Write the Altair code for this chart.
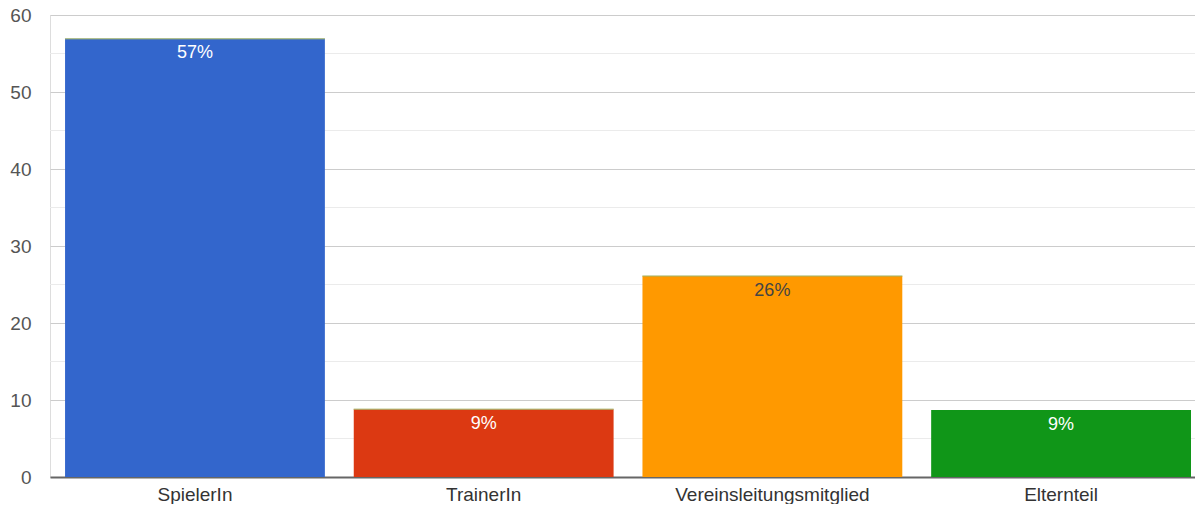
import altair as alt
import pandas as pd

categories = ["SpielerIn", "TrainerIn", "Vereinsleitungsmitglied", "Elternteil"]
values = [56.9, 8.8, 26.1, 8.7]
labels = ["57%", "9%", "26%", "9%"]
bar_colors = ["#3366cc", "#dc3912", "#ff9900", "#109618"]
label_colors = ["#ffffff", "#ffffff", "#444444", "#ffffff"]
top_line_categories = ["SpielerIn", "TrainerIn", "Vereinsleitungsmitglied"]
major_ticks = [0, 10, 20, 30, 40, 50, 60]
minor_ticks = [5, 15, 25, 35, 45, 55]

df = pd.DataFrame({"cat": categories, "value": values, "label": labels,
                   "lcolor": label_colors})
minor_df = pd.DataFrame({"v": minor_ticks})

FONT = "Liberation Sans"

x_enc = alt.X("cat:N", sort=categories, title=None,
              scale=alt.Scale(paddingInner=0.1, paddingOuter=0.033, align=0.79),
              axis=alt.Axis(labelAngle=0, labelFontSize=19, labelColor="#333333",
                            labelFont=FONT, ticks=False, domain=True,
                            domainColor="#666666", domainWidth=2, labelPadding=8,
                            labelLimit=0, grid=False))
y_scale = alt.Scale(domain=[0, 60], nice=False)

minor = alt.Chart(minor_df).mark_rule(color="#ebebeb", strokeWidth=1).encode(
    y=alt.Y("v:Q", scale=y_scale, title=None),
)

bars = alt.Chart(df).mark_bar().encode(
    x=x_enc,
    y=alt.Y("value:Q", scale=y_scale, title=None,
            axis=alt.Axis(values=major_ticks,
                          labelFontSize=19, labelColor="#555555", labelFont=FONT,
                          ticks=False, domain=False, labelPadding=19,
                          gridColor="#cccccc")),
    color=alt.Color("cat:N", sort=categories,
                    scale=alt.Scale(domain=categories, range=bar_colors),
                    legend=None),
)

top_lines = alt.Chart(df).transform_filter(
    alt.FieldOneOfPredicate(field="cat", oneOf=top_line_categories)
).mark_tick(color="#a3b566", thickness=1.5, size=260).encode(
    x=alt.X("cat:N", sort=categories),
    y=alt.Y("value:Q", scale=y_scale),
)

text = alt.Chart(df).mark_text(baseline="top", dy=5.5, fontSize=18, font=FONT).encode(
    x=alt.X("cat:N", sort=categories),
    y=alt.Y("value:Q", scale=y_scale),
    text="label:N",
    color=alt.Color("lcolor:N", scale=None),
)

chart = alt.layer(minor, bars, top_lines, text).properties(
    width=1145, height=462,
    autosize=alt.AutoSizeParams(type="none"),
    padding={"left": 42, "top": 7, "right": 0, "bottom": 27},
).configure_view(stroke=None).configure(background="white")

chart.save("out.html", embed_options={"renderer": "svg", "actions": False})
